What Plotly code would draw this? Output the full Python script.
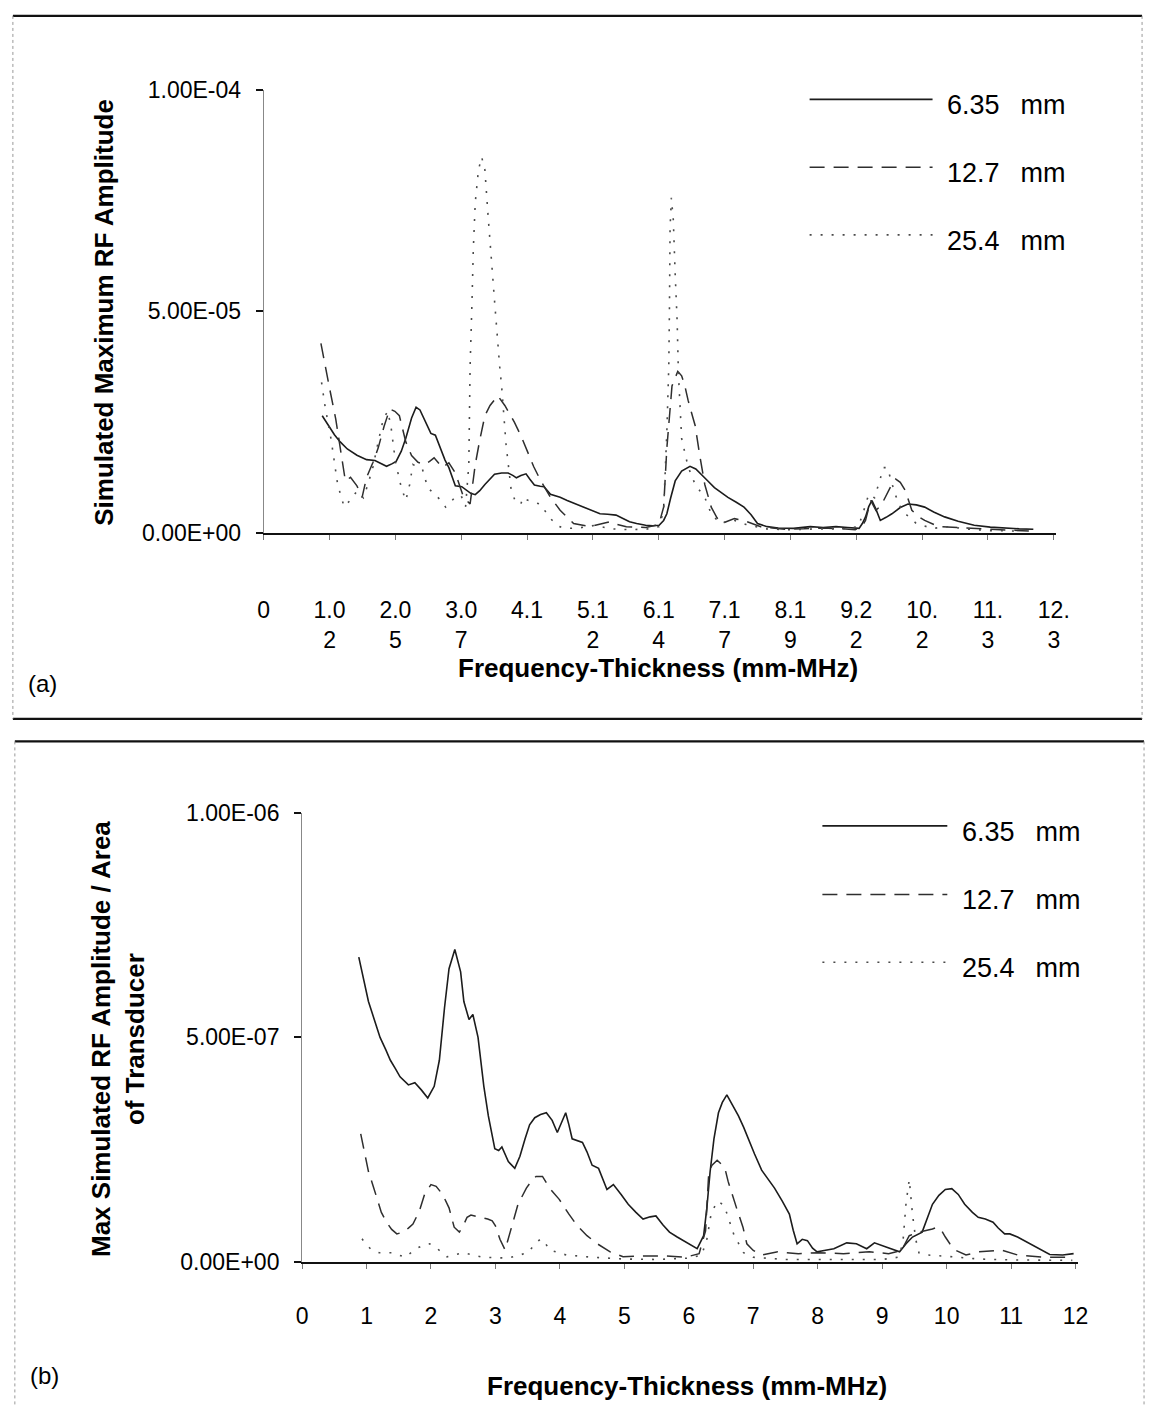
import plotly.graph_objects as go

# ---------------------------------------------------------------------------
# Panel (a): simulated maximum RF amplitude vs frequency-thickness (mm-MHz)
# ---------------------------------------------------------------------------
A_FT_635 = [
    0.91, 1.00, 1.10, 1.19, 1.30, 1.45, 1.60, 1.73, 1.82, 1.91,
    2.00, 2.06, 2.14, 2.21, 2.30, 2.37, 2.43, 2.50, 2.60, 2.67,
    2.75, 2.82, 2.88, 2.98, 3.08, 3.15, 3.22, 3.29, 3.36, 3.44,
    3.52, 3.59, 3.70, 3.80, 3.88, 3.93, 4.00, 4.08, 4.14, 4.21,
    4.30, 4.36, 4.46, 4.61, 4.72, 4.82, 4.92, 5.02, 5.12, 5.23,
    5.35, 5.48, 5.58, 5.69, 5.80, 5.94, 6.05, 6.15, 6.22, 6.27,
    6.33, 6.40, 6.50, 6.63, 6.72, 6.81, 6.90, 7.01, 7.10, 7.22,
    7.35, 7.47, 7.58, 7.68, 7.83, 8.00, 8.24, 8.38, 8.50, 8.70,
    8.90, 9.08, 9.26, 9.31, 9.36, 9.41, 9.46, 9.52, 9.59, 9.68,
    9.77, 9.90, 10.02, 10.15, 10.28, 10.42, 10.59, 10.80, 11.05, 11.30,
    11.56, 11.75, 11.97,
]
A_AMP_635 = [
    2.65e-5, 2.45e-5, 2.22e-5, 2.06e-5, 1.90e-5, 1.76e-5, 1.66e-5, 1.64e-5, 1.57e-5, 1.51e-5,
    1.57e-5, 1.62e-5, 1.85e-5, 2.14e-5, 2.60e-5, 2.84e-5, 2.78e-5, 2.55e-5, 2.25e-5, 2.21e-5,
    1.92e-5, 1.65e-5, 1.48e-5, 1.07e-5, 1.05e-5, 0.98e-5, 0.90e-5, 0.87e-5, 0.96e-5, 1.10e-5,
    1.22e-5, 1.33e-5, 1.36e-5, 1.36e-5, 1.30e-5, 1.25e-5, 1.30e-5, 1.34e-5, 1.22e-5, 1.09e-5,
    1.06e-5, 1.05e-5, 0.88e-5, 0.81e-5, 0.74e-5, 0.68e-5, 0.62e-5, 0.55e-5, 0.50e-5, 0.44e-5,
    0.43e-5, 0.41e-5, 0.34e-5, 0.26e-5, 0.22e-5, 0.18e-5, 0.17e-5, 0.18e-5, 0.29e-5, 0.44e-5,
    0.80e-5, 1.18e-5, 1.40e-5, 1.51e-5, 1.45e-5, 1.33e-5, 1.19e-5, 1.03e-5, 0.93e-5, 0.81e-5,
    0.70e-5, 0.59e-5, 0.42e-5, 0.22e-5, 0.15e-5, 0.12e-5, 0.11e-5, 0.13e-5, 0.15e-5, 0.13e-5,
    0.15e-5, 0.13e-5, 0.11e-5, 0.22e-5, 0.37e-5, 0.60e-5, 0.74e-5, 0.55e-5, 0.29e-5, 0.36e-5,
    0.44e-5, 0.58e-5, 0.66e-5, 0.64e-5, 0.59e-5, 0.48e-5, 0.37e-5, 0.27e-5, 0.18e-5, 0.14e-5,
    0.11e-5, 0.10e-5, 0.09e-5,
]

A_FT_127 = [
    0.89, 0.95, 1.02, 1.12, 1.22, 1.27, 1.35, 1.45, 1.53, 1.60,
    1.70, 1.78, 1.87, 1.96, 2.04, 2.11, 2.21, 2.30, 2.40, 2.50,
    2.58, 2.65, 2.78, 2.88, 2.98, 3.05, 3.11, 3.21, 3.29, 3.36,
    3.44, 3.52, 3.64, 3.75, 3.90, 4.00, 4.10, 4.20, 4.31, 4.46,
    4.61, 4.72, 4.82, 5.07, 5.25, 5.38, 5.50, 5.64, 5.94, 6.10,
    6.15, 6.22, 6.27, 6.31, 6.35, 6.44, 6.50, 6.55, 6.60, 6.68,
    6.71, 6.78, 6.86, 6.96, 7.05, 7.12, 7.22, 7.32, 7.42, 7.52,
    7.73, 8.10, 8.40, 8.70, 9.00, 9.20, 9.30, 9.36, 9.44, 9.52,
    9.60, 9.67, 9.75, 9.83, 9.90, 9.98, 10.08, 10.18, 10.28, 10.50,
    11.00, 11.50, 11.90,
]
A_AMP_127 = [
    4.28e-5, 3.80e-5, 3.30e-5, 2.58e-5, 1.70e-5, 1.18e-5, 1.26e-5, 1.07e-5, 0.81e-5, 1.26e-5,
    1.60e-5, 1.92e-5, 2.40e-5, 2.80e-5, 2.75e-5, 2.65e-5, 2.06e-5, 1.75e-5, 1.60e-5, 1.55e-5,
    1.62e-5, 1.70e-5, 1.48e-5, 1.59e-5, 1.36e-5, 1.05e-5, 0.81e-5, 0.66e-5, 1.55e-5, 2.10e-5,
    2.65e-5, 2.88e-5, 3.10e-5, 2.88e-5, 2.50e-5, 2.20e-5, 1.84e-5, 1.50e-5, 1.18e-5, 0.81e-5,
    0.52e-5, 0.35e-5, 0.22e-5, 0.15e-5, 0.22e-5, 0.26e-5, 0.20e-5, 0.15e-5, 0.13e-5, 0.18e-5,
    0.22e-5, 0.59e-5, 1.92e-5, 2.70e-5, 3.32e-5, 3.65e-5, 3.55e-5, 3.32e-5, 3.00e-5, 2.58e-5,
    2.43e-5, 1.77e-5, 1.10e-5, 0.59e-5, 0.35e-5, 0.22e-5, 0.28e-5, 0.33e-5, 0.30e-5, 0.26e-5,
    0.15e-5, 0.09e-5, 0.10e-5, 0.12e-5, 0.10e-5, 0.08e-5, 0.15e-5, 0.29e-5, 0.74e-5, 0.52e-5,
    0.62e-5, 0.81e-5, 1.05e-5, 1.22e-5, 1.15e-5, 0.96e-5, 0.52e-5, 0.38e-5, 0.29e-5, 0.15e-5,
    0.11e-5, 0.07e-5, 0.05e-5,
]

A_FT_254 = [
    0.90, 0.95, 1.05, 1.15, 1.25, 1.35, 1.45, 1.55, 1.62, 1.70,
    1.76, 1.86, 1.93, 1.98, 2.05, 2.14, 2.21, 2.27, 2.32, 2.40,
    2.47, 2.55, 2.65, 2.75, 2.83, 2.90, 2.97, 3.07, 3.14, 3.19,
    3.21, 3.24, 3.26, 3.29, 3.34, 3.39, 3.44, 3.49, 3.54, 3.59,
    3.67, 3.70, 3.77, 3.85, 3.92, 4.00, 4.03, 4.10, 4.20, 4.30,
    4.46, 4.60, 4.70, 4.90, 5.16, 5.40, 5.70, 6.00, 6.15, 6.22,
    6.27, 6.30, 6.31, 6.32, 6.34, 6.37, 6.40, 6.43, 6.45, 6.50,
    6.60, 6.71, 6.86, 6.96, 7.10, 7.30, 7.50, 7.80, 8.20, 8.60,
    9.00, 9.25, 9.33, 9.41, 9.50, 9.58, 9.64, 9.70, 9.76, 9.82,
    9.90, 9.98, 10.15, 10.40, 10.66, 10.90, 11.30, 11.80,
]
A_AMP_254 = [
    3.40e-5, 2.90e-5, 2.10e-5, 1.10e-5, 0.60e-5, 0.75e-5, 0.95e-5, 0.80e-5, 1.10e-5, 1.50e-5,
    1.92e-5, 2.58e-5, 2.75e-5, 2.40e-5, 1.60e-5, 1.03e-5, 0.74e-5, 1.10e-5, 1.55e-5, 1.50e-5,
    1.44e-5, 1.03e-5, 0.90e-5, 0.75e-5, 0.59e-5, 0.70e-5, 0.80e-5, 0.85e-5, 0.60e-5, 1.55e-5,
    3.76e-5, 5.24e-5, 6.40e-5, 7.45e-5, 8.19e-5, 8.48e-5, 8.19e-5, 7.15e-5, 6.12e-5, 5.24e-5,
    3.76e-5, 3.32e-5, 1.99e-5, 0.96e-5, 0.70e-5, 0.66e-5, 0.81e-5, 0.75e-5, 0.70e-5, 0.66e-5,
    0.33e-5, 0.15e-5, 0.11e-5, 0.12e-5, 0.18e-5, 0.10e-5, 0.08e-5, 0.10e-5, 0.15e-5, 0.52e-5,
    2.29e-5, 3.76e-5, 5.00e-5, 6.86e-5, 7.56e-5, 7.08e-5, 5.83e-5, 4.79e-5, 3.60e-5, 2.14e-5,
    1.50e-5, 1.10e-5, 0.81e-5, 0.44e-5, 0.22e-5, 0.30e-5, 0.20e-5, 0.10e-5, 0.08e-5, 0.10e-5,
    0.10e-5, 0.15e-5, 0.50e-5, 0.88e-5, 0.80e-5, 1.20e-5, 1.48e-5, 1.48e-5, 1.20e-5, 0.88e-5,
    0.60e-5, 0.44e-5, 0.22e-5, 0.11e-5, 0.15e-5, 0.10e-5, 0.06e-5, 0.05e-5,
]

A_X_TICKS = [0, 1.024, 2.048, 3.072, 4.096, 5.12, 6.144, 7.168, 8.192, 9.216, 10.24, 11.264, 12.288]
A_X_LABELS = ["0", "1.0<br>2", "2.0<br>5", "3.0<br>7", "4.1", "5.1<br>2", "6.1<br>4",
              "7.1<br>7", "8.1<br>9", "9.2<br>2", "10.<br>2", "11.<br>3", "12.<br>3"]
A_Y_TICKS = [0, 5e-5, 1e-4]
A_Y_LABELS = ["0.00E+00", "5.00E-05", "1.00E-04"]

# ---------------------------------------------------------------------------
# Panel (b): maximum amplitude normalised by transducer area
# ---------------------------------------------------------------------------
B_FT_635 = [
    0.88, 0.95, 1.03, 1.12, 1.21, 1.30, 1.37, 1.45, 1.52, 1.65,
    1.75, 1.85, 1.95, 2.05, 2.13, 2.21, 2.28, 2.37, 2.46, 2.51,
    2.59, 2.65, 2.73, 2.82, 2.89, 2.99, 3.05, 3.10, 3.20, 3.30,
    3.38, 3.46, 3.53, 3.61, 3.70, 3.79, 3.88, 3.96, 4.03, 4.09,
    4.14, 4.19, 4.35, 4.42, 4.50, 4.60, 4.73, 4.83, 4.95, 5.06,
    5.18, 5.29, 5.40, 5.49, 5.60, 5.70, 5.82, 5.95, 6.05, 6.13,
    6.23, 6.28, 6.33, 6.39, 6.46, 6.52, 6.59, 6.68, 6.77, 6.85,
    6.92, 7.02, 7.13, 7.23, 7.33, 7.45, 7.56, 7.62, 7.68, 7.76,
    7.84, 7.92, 7.99, 8.10, 8.25, 8.45, 8.60, 8.76, 8.88, 9.06,
    9.27, 9.37, 9.47, 9.62, 9.70, 9.78, 9.88, 9.98, 10.08, 10.18,
    10.28, 10.40, 10.49, 10.60, 10.72, 10.80, 10.90, 10.98, 11.10, 11.20,
    11.35, 11.46, 11.60, 11.80, 11.97,
]
B_AMP_635 = [
    6.79e-7, 6.30e-7, 5.80e-7, 5.40e-7, 5.00e-7, 4.72e-7, 4.49e-7, 4.30e-7, 4.12e-7, 3.94e-7,
    3.99e-7, 3.83e-7, 3.65e-7, 3.91e-7, 4.49e-7, 5.66e-7, 6.53e-7, 6.96e-7, 6.46e-7, 5.80e-7,
    5.40e-7, 5.51e-7, 5.00e-7, 3.91e-7, 3.25e-7, 2.52e-7, 2.48e-7, 2.56e-7, 2.23e-7, 2.08e-7,
    2.35e-7, 2.74e-7, 3.05e-7, 3.21e-7, 3.28e-7, 3.32e-7, 3.15e-7, 2.88e-7, 3.10e-7, 3.32e-7,
    3.05e-7, 2.74e-7, 2.66e-7, 2.45e-7, 2.15e-7, 2.08e-7, 1.61e-7, 1.72e-7, 1.50e-7, 1.28e-7,
    1.10e-7, 0.95e-7, 1.00e-7, 1.02e-7, 0.82e-7, 0.66e-7, 0.55e-7, 0.44e-7, 0.35e-7, 0.29e-7,
    0.58e-7, 1.20e-7, 2.00e-7, 2.74e-7, 3.32e-7, 3.55e-7, 3.72e-7, 3.50e-7, 3.25e-7, 3.00e-7,
    2.74e-7, 2.40e-7, 2.04e-7, 1.85e-7, 1.64e-7, 1.35e-7, 1.06e-7, 0.70e-7, 0.40e-7, 0.50e-7,
    0.47e-7, 0.30e-7, 0.22e-7, 0.25e-7, 0.29e-7, 0.42e-7, 0.40e-7, 0.29e-7, 0.42e-7, 0.33e-7,
    0.22e-7, 0.40e-7, 0.55e-7, 0.66e-7, 0.95e-7, 1.28e-7, 1.48e-7, 1.61e-7, 1.63e-7, 1.50e-7,
    1.28e-7, 1.10e-7, 0.99e-7, 0.95e-7, 0.88e-7, 0.75e-7, 0.62e-7, 0.62e-7, 0.55e-7, 0.47e-7,
    0.35e-7, 0.26e-7, 0.16e-7, 0.15e-7, 0.18e-7,
]

B_FT_127 = [
    0.91, 0.97, 1.03, 1.10, 1.16, 1.23, 1.31, 1.39, 1.47, 1.57,
    1.65, 1.72, 1.82, 1.90, 2.00, 2.08, 2.18, 2.28, 2.36, 2.44,
    2.50, 2.56, 2.62, 2.69, 2.79, 2.88, 2.95, 3.00, 3.07, 3.15,
    3.25, 3.35, 3.48, 3.58, 3.63, 3.73, 3.84, 3.99, 4.14, 4.27,
    4.42, 4.58, 4.78, 4.98, 5.29, 5.60, 5.95, 6.16, 6.26, 6.31,
    6.36, 6.44, 6.50, 6.56, 6.61, 6.68, 6.74, 6.84, 6.90, 7.00,
    7.13, 7.38, 7.70, 8.00, 8.40, 8.80, 9.10, 9.30, 9.42, 9.57,
    9.70, 9.78, 9.85, 9.92, 9.98, 10.05, 10.13, 10.30, 10.50, 10.85,
    11.10, 11.50, 11.95,
]
B_AMP_127 = [
    2.85e-7, 2.40e-7, 2.01e-7, 1.70e-7, 1.42e-7, 1.10e-7, 0.88e-7, 0.72e-7, 0.62e-7, 0.66e-7,
    0.75e-7, 0.84e-7, 1.13e-7, 1.50e-7, 1.72e-7, 1.68e-7, 1.50e-7, 1.20e-7, 0.77e-7, 0.66e-7,
    0.80e-7, 0.99e-7, 1.04e-7, 1.02e-7, 0.99e-7, 0.95e-7, 0.91e-7, 0.80e-7, 0.50e-7, 0.26e-7,
    0.77e-7, 1.28e-7, 1.64e-7, 1.84e-7, 1.90e-7, 1.90e-7, 1.64e-7, 1.39e-7, 1.06e-7, 0.80e-7,
    0.58e-7, 0.40e-7, 0.22e-7, 0.11e-7, 0.13e-7, 0.13e-7, 0.10e-7, 0.18e-7, 0.69e-7, 2.00e-7,
    2.15e-7, 2.26e-7, 2.18e-7, 2.08e-7, 1.79e-7, 1.45e-7, 1.20e-7, 0.77e-7, 0.40e-7, 0.25e-7,
    0.15e-7, 0.22e-7, 0.18e-7, 0.20e-7, 0.18e-7, 0.22e-7, 0.18e-7, 0.25e-7, 0.58e-7, 0.66e-7,
    0.70e-7, 0.73e-7, 0.77e-7, 0.70e-7, 0.55e-7, 0.40e-7, 0.26e-7, 0.15e-7, 0.22e-7, 0.26e-7,
    0.15e-7, 0.10e-7, 0.10e-7,
]

B_FT_254 = [
    0.93, 1.00, 1.08, 1.20, 1.40, 1.60, 1.77, 1.90, 1.98, 2.10,
    2.25, 2.50, 2.80, 3.20, 3.50, 3.65, 3.71, 3.78, 3.84, 4.10,
    4.50, 5.00, 5.50, 6.00, 6.20, 6.28, 6.35, 6.45, 6.55, 6.62,
    6.70, 6.85, 7.00, 7.50, 8.00, 8.50, 9.00, 9.25, 9.32, 9.37,
    9.42, 9.47, 9.52, 9.57, 9.70, 10.00, 10.50, 11.00, 11.50, 11.95,
]
B_AMP_254 = [
    0.51e-7, 0.38e-7, 0.26e-7, 0.20e-7, 0.20e-7, 0.10e-7, 0.29e-7, 0.38e-7, 0.40e-7, 0.29e-7,
    0.11e-7, 0.20e-7, 0.10e-7, 0.08e-7, 0.20e-7, 0.45e-7, 0.51e-7, 0.40e-7, 0.26e-7, 0.15e-7,
    0.10e-7, 0.06e-7, 0.05e-7, 0.08e-7, 0.15e-7, 0.50e-7, 1.10e-7, 1.35e-7, 1.25e-7, 0.95e-7,
    0.60e-7, 0.20e-7, 0.10e-7, 0.05e-7, 0.05e-7, 0.06e-7, 0.05e-7, 0.10e-7, 0.40e-7, 1.30e-7,
    1.83e-7, 1.06e-7, 0.50e-7, 0.20e-7, 0.15e-7, 0.12e-7, 0.06e-7, 0.04e-7, 0.03e-7, 0.03e-7,
]

B_X_TICKS = [0, 1, 2, 3, 4, 5, 6, 7, 8, 9, 10, 11, 12]
B_X_LABELS = ["0", "1", "2", "3", "4", "5", "6", "7", "8", "9", "10", "11", "12"]
B_Y_TICKS = [0, 5e-7, 1e-6]
B_Y_LABELS = ["0.00E+00", "5.00E-07", "1.00E-06"]

SERIES_NAMES = ["6.35\u2002\u00a0mm", "12.7\u2002\u00a0mm", "25.4\u2002\u00a0mm"]

# ---------------------------------------------------------------------------
# Styling
# ---------------------------------------------------------------------------
W, H = 1159, 1420
FONT = "Liberation Sans, Arial, Helvetica, sans-serif"
STYLES = [
    dict(color="#1c1c1c", width=1.6, dash="solid"),
    dict(color="#2e2e2e", width=1.5, dash="15px,9px"),
    dict(color="#4a4a4a", width=1.6, dash="2px,9px"),
]


def px(x):
    return x / W


def py(y):
    return 1 - y / H


fig = go.Figure()

panel_a = [(A_FT_635, A_AMP_635), (A_FT_127, A_AMP_127), (A_FT_254, A_AMP_254)]
panel_b = [(B_FT_635, B_AMP_635), (B_FT_127, B_AMP_127), (B_FT_254, B_AMP_254)]

for (xs, ys), st, name in zip(panel_a, STYLES, SERIES_NAMES):
    fig.add_trace(go.Scatter(x=xs, y=ys, mode="lines", name=name, line=st,
                             xaxis="x", yaxis="y", showlegend=False, hoverinfo="skip"))
for (xs, ys), st, name in zip(panel_b, STYLES, SERIES_NAMES):
    fig.add_trace(go.Scatter(x=xs, y=ys, mode="lines", name=name, line=st,
                             xaxis="x2", yaxis="y2", showlegend=False, hoverinfo="skip"))

tick_font = dict(family=FONT, size=23, color="#000")
title_font = dict(family=FONT, size=26, color="#000")

common_x = dict(showgrid=False, zeroline=False, showline=True, linecolor="#111", linewidth=2,
                ticks="outside", ticklen=5, tickwidth=1, tickcolor="#777",
                tickfont=tick_font, tickmode="array")
common_y = dict(showgrid=False, zeroline=False, showline=True, linecolor="#888", linewidth=1,
                ticks="outside", ticklen=7, tickwidth=2, tickcolor="#111",
                tickfont=tick_font, tickmode="array", ticklabelstandoff=10)

fig.update_layout(
    width=W, height=H,
    margin=dict(l=0, r=0, t=0, b=0),
    paper_bgcolor="white", plot_bgcolor="white",
    font=dict(family=FONT, color="#000"),
    xaxis=dict(common_x, domain=[px(262), px(1068)], range=[0, 12.33], anchor="y",
               tickvals=A_X_TICKS, ticktext=A_X_LABELS, ticklabelstandoff=50),
    yaxis=dict(common_y, domain=[py(530), py(78)], range=[0, 1e-4], anchor="x",
               tickvals=A_Y_TICKS, ticktext=A_Y_LABELS),
    xaxis2=dict(common_x, domain=[px(301), px(1090)], range=[0, 12.04], anchor="y2",
                tickvals=B_X_TICKS, ticktext=B_X_LABELS, ticklabelstandoff=28),
    yaxis2=dict(common_y, domain=[py(1272), py(815)], range=[0, 1e-6], anchor="x2",
                tickvals=B_Y_TICKS, ticktext=B_Y_LABELS),
)

annotations = [
    dict(text="<b>Simulated Maximum RF Amplitude</b>", x=px(100), y=py(305), textangle=-90),
    dict(text="<b>Frequency-Thickness (mm-MHz)</b>", x=px(663), y=py(667)),
    dict(text="<b>Max Simulated RF Amplitude / Area<br>of Transducer</b>",
         x=px(114), y=py(1045), textangle=-90),
    dict(text="<b>Frequency-Thickness (mm-MHz)</b>", x=px(692), y=py(1399)),
]
for a in annotations:
    a.update(xref="paper", yref="paper", showarrow=False, font=title_font,
             xanchor="center", yanchor="middle")

annotations += [
    dict(text="(a)", x=px(20), y=py(683), xref="paper", yref="paper", showarrow=False,
         xanchor="left", yanchor="middle", font=dict(family=FONT, size=24, color="#000")),
    dict(text="(b)", x=px(22), y=py(1388), xref="paper", yref="paper", showarrow=False,
         xanchor="left", yanchor="middle", font=dict(family=FONT, size=24, color="#000")),
]

# Legend keys: long line samples with the series label to the right
shapes = []
legend_rows = [
    (817, 942, 955, [88, 157, 226]),   # panel (a)
    (830, 957, 970, [828, 898, 967]),  # panel (b)
]
for x0, x1, xt, rows in legend_rows:
    for yl, st, name in zip(rows, STYLES, SERIES_NAMES):
        shapes.append(dict(type="line", xref="paper", yref="paper",
                           x0=px(x0), x1=px(x1), y0=py(yl), y1=py(yl),
                           line=dict(color=st["color"], width=st["width"], dash=st["dash"])))
        annotations.append(dict(text=name, x=px(xt), y=py(yl + 6), xref="paper", yref="paper",
                                showarrow=False, xanchor="left", yanchor="middle",
                                font=dict(family=FONT, size=27, color="#000")))

# Panel frames
frame_lines = [
    # panel (a)
    (7, 3, 1155, 3, "#111", 2.2, "solid"),
    (7, 719, 1155, 719, "#111", 2.2, "solid"),
    (7, 3, 7, 719, "#999", 1, "dot"),
    (1155, 3, 1155, 719, "#999", 1, "dot"),
    # panel (b)
    (9, 742, 1157, 742, "#111", 2.2, "solid"),
    (9, 742, 9, 1420, "#999", 1, "dot"),
    (1157, 742, 1157, 1420, "#999", 1, "dot"),
]
for x0, y0, x1, y1, c, w, d in frame_lines:
    shapes.append(dict(type="line", xref="paper", yref="paper",
                       x0=px(x0), y0=py(y0), x1=px(x1), y1=py(y1),
                       line=dict(color=c, width=w, dash=d)))

fig.update_layout(annotations=annotations, shapes=shapes)

fig.write_html("out.html")
